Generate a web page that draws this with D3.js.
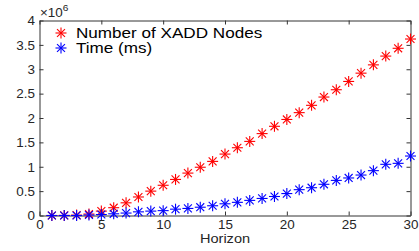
<!DOCTYPE html>
<html lang="en">
<head>
<meta charset="UTF-8">
<title>XADD nodes and time by horizon</title>
<script src="https://d3js.org/d3.v7.min.js"></script>
<style>
    body { margin: 0; background: #fff; }
    svg { display: block; font-family: "Liberation Sans", Arial, sans-serif; }
    .axis path, .axis line { stroke: #333; }
    .axis text { fill: #262626; }
</style>
</head>
<body>
<div id="chart"></div>
<script>
    // horizon steps
    const horizon = [1, 2, 3, 4, 5, 6, 7, 8, 9, 10, 11, 12, 13, 14, 15,
                     16, 17, 18, 19, 20, 21, 22, 23, 24, 25, 26, 27, 28, 29, 30];
    // values in units of 10^6
    const xaddNodes = [0.0, 0.002, 0.008, 0.03, 0.09, 0.16, 0.26, 0.38, 0.50, 0.62,
                       0.74, 0.87, 0.99, 1.11, 1.26, 1.39, 1.52, 1.68, 1.83, 1.97,
                       2.11, 2.26, 2.43, 2.58, 2.75, 2.92, 3.09, 3.27, 3.43, 3.62];
    const timeMs = [0.0, 0.0, 0.0, 0.01, 0.02, 0.035, 0.05, 0.075, 0.09, 0.10,
                    0.13, 0.145, 0.17, 0.20, 0.24, 0.27, 0.31, 0.35, 0.39, 0.45,
                    0.53, 0.57, 0.64, 0.72, 0.77, 0.83, 0.92, 1.05, 1.07, 1.22];
    const xTicks = [0, 5, 10, 15, 20, 25, 30];
    const yTicks = [0, 0.5, 1, 1.5, 2, 2.5, 3, 3.5, 4];
    const seriesNames = ["Number of XADD Nodes", "Time (ms)"];
    const seriesColors = ["#ff0000", "#0000ff"];

    const width = 419, height = 251;
    const plotL = 39.5, plotR = 410.5, plotT = 20.5, plotB = 215.5;
    const sx = 1.12; // text in the picture is a bit wide

    const svg = d3.select("#chart").append("svg")
        .attr("width", width)
        .attr("height", height);

    const x = d3.scaleLinear().domain([0, 30]).range([plotL, plotR]);
    const y = d3.scaleLinear().domain([0, 4]).range([plotB, plotT]);

    // box + ticks (matlab style, ticks inward on all sides)
    const xAxis = svg.append("g").attr("class", "axis")
        .attr("transform", "translate(0," + plotB + ")")
        .call(d3.axisBottom(x).tickValues(xTicks).tickSizeInner(-4).tickSizeOuter(0).tickPadding(5).tickFormat(String));
    const yAxis = svg.append("g").attr("class", "axis")
        .attr("transform", "translate(" + plotL + ",0)")
        .call(d3.axisLeft(y).tickValues(yTicks).tickSizeInner(-4).tickSizeOuter(0).tickPadding(4).tickFormat(String));
    svg.append("g").attr("class", "axis")
        .attr("transform", "translate(0," + plotT + ")")
        .call(d3.axisTop(x).tickValues(xTicks).tickSizeInner(-4).tickSizeOuter(0).tickFormat(""));
    svg.append("g").attr("class", "axis")
        .attr("transform", "translate(" + plotR + ",0)")
        .call(d3.axisRight(y).tickValues(yTicks).tickSizeInner(-4).tickSizeOuter(0).tickFormat(""));

    svg.selectAll(".axis text")
        .style("font-size", "12px")
        .style("font-family", "'Liberation Sans', Arial, sans-serif");
    xAxis.selectAll("text").attr("transform", "scale(" + sx + ",1)");
    yAxis.selectAll("text").attr("transform", "scale(" + sx + ",1)").attr("dy", "0.36em");

    // x10^6 exponent label
    const expo = svg.append("text")
        .attr("transform", "translate(40,17) scale(" + sx + ",1)")
        .style("font-size", "12px")
        .attr("fill", "#262626");
    expo.append("tspan").text("\u00d710");
    expo.append("tspan").attr("dy", -6).style("font-size", "9px").text("6");

    svg.append("text")
        .attr("transform", "translate(" + x(15) + ",242.5) scale(" + sx + ",1)")
        .attr("text-anchor", "middle")
        .style("font-size", "13px")
        .attr("fill", "#262626")
        .text("Horizon");

    // asterisk marker: plus + cross
    function star(g, r) {
        const d = r * 0.72;
        g.append("line").attr("x1", -r).attr("x2", r).attr("y1", 0).attr("y2", 0);
        g.append("line").attr("x1", 0).attr("x2", 0).attr("y1", -r).attr("y2", r);
        g.append("line").attr("x1", -d).attr("x2", d).attr("y1", -d).attr("y2", d);
        g.append("line").attr("x1", -d).attr("x2", d).attr("y1", d).attr("y2", -d);
    }

    [xaddNodes, timeMs].forEach(function(vals, k) {
        const pts = svg.append("g")
            .attr("stroke", seriesColors[k])
            .attr("stroke-width", 1.1)
            .selectAll("g")
            .data(horizon)
            .enter().append("g")
            .attr("transform", (d, i) => "translate(" + x(d) + "," + y(vals[i]) + ")");
        pts.each(function() { star(d3.select(this), 5.5); });
    });

    // legend
    seriesNames.forEach(function(name, k) {
        const ly = 33 + k * 15;
        const m = svg.append("g")
            .attr("stroke", seriesColors[k])
            .attr("stroke-width", 1.1)
            .attr("transform", "translate(61," + ly + ")");
        star(m, 5.5);
        svg.append("text")
            .attr("transform", "translate(76," + (ly + 5) + ") scale(1.14,1)")
            .style("font-size", "15px")
            .attr("fill", "#000")
            .text(name);
    });
</script>
</body>
</html>
